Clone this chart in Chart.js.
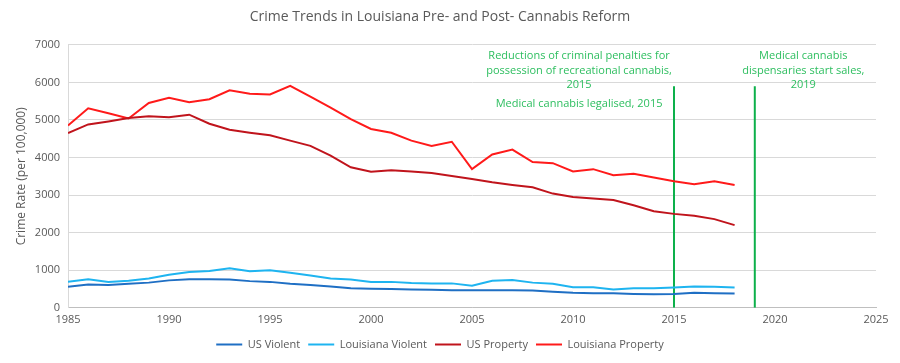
<!DOCTYPE html>
<html>
<head>
<meta charset="utf-8">
<script src="https://cdn.jsdelivr.net/npm/chart.js@4/dist/chart.umd.min.js"></script>
<style>
html,body{margin:0;padding:0;background:#fff;}
#wrap{width:900px;height:363px;position:relative;}
</style>
</head>
<body>
<div id="wrap"><canvas id="c" width="900" height="363"></canvas></div>
<script>
const years = [1985,1986,1987,1988,1989,1990,1991,1992,1993,1994,1995,1996,1997,1998,1999,2000,2001,2002,2003,2004,2005,2006,2007,2008,2009,2010,2011,2012,2013,2014,2015,2016,2017,2018];
const usViolent = [560,620,610,640,670,730,760,760,750,710,690,640,610,570,520,510,500,490,480,470,470,470,470,460,430,400,390,390,370,360,370,400,390,380];
const laViolent = [690,760,690,720,780,880,950,980,1050,970,1000,930,860,780,750,690,690,660,650,650,590,720,740,670,640,550,550,490,520,520,540,570,560,540];
const usProperty = [4650,4880,4960,5050,5100,5070,5140,4900,4740,4660,4590,4450,4310,4050,3740,3620,3660,3630,3590,3510,3430,3340,3270,3210,3040,2950,2910,2870,2730,2570,2500,2450,2360,2200];
const laProperty = [4850,5310,5180,5040,5450,5590,5470,5550,5790,5700,5680,5910,5620,5330,5020,4760,4660,4450,4310,4420,3690,4080,4210,3880,3850,3630,3690,3530,3570,3470,3370,3290,3370,3270];
const eventYears = [2015, 2019];
const eventLineTop = 5900;
const annotations = [
  {x: 2010.3, y: 6700, lines: ["Reductions of criminal penalties for", "possession of recreational cannabis,", "2015", "", "Medical cannabis legalised, 2015"]},
  {x: 2021.4, y: 6700, lines: ["Medical cannabis", "dispensaries start sales,", "2019"]}
];
const xTicks = {min:1985, max:2025, step:5};
const yTicks = {min:0, max:7000, step:1000};

const FONT = "'Open Sans', 'Liberation Sans', sans-serif";
const toXY = arr => arr.map((v,i)=>({x:years[i], y:v}));

const annoPlugin = {
  id:'anno',
  afterDatasetsDraw(chart){
    const {ctx, scales:{x,y}} = chart;
    ctx.save();
    ctx.fillStyle = '#2DBE5F';
    ctx.font = "11px " + FONT;
    ctx.textAlign = 'center';
    ctx.textBaseline = 'middle';
    annotations.forEach(a=>{
      const px = x.getPixelForValue(a.x);
      let py = y.getPixelForValue(a.y);
      a.lines.forEach((l,i)=>{
        if(l==='') { py += 4; return; }
        ctx.fillText(l, px, py);
        py += 14.5;
      });
    });
    ctx.restore();
  }
};

const lineDs = (label, data, color) => ({
  label, data: toXY(data), borderColor: color, backgroundColor: color,
  borderWidth: 2, pointRadius: 0, tension: 0, fill:false
});

const datasets = [
  lineDs('US Violent', usViolent, '#1F6FC4'),
  lineDs('Louisiana Violent', laViolent, '#1EB4F0'),
  lineDs('US Property', usProperty, '#C0141C'),
  lineDs('Louisiana Property', laProperty, '#FF1A1A'),
];
eventYears.forEach(ey=>{
  datasets.push({label:'event', data:[{x:ey,y:0},{x:ey,y:eventLineTop}], borderColor:'#0DB04B', borderWidth:2, pointRadius:0, fill:false, isEvent:true});
});

new Chart(document.getElementById('c'), {
  type:'line',
  data:{datasets},
  plugins:[annoPlugin],
  options:{
    responsive:false,
    animation:false,
    layout:{padding:{left:4, right:24, top:0, bottom:3}},
    plugins:{
      title:{display:true, text:'Crime Trends in Louisiana Pre- and Post- Cannabis Reform', color:'#595959', font:{family:FONT, size:14, weight:'normal'}, padding:{top:9, bottom:19}},
      legend:{position:'bottom', labels:{
        filter:(item, data)=> !data.datasets[item.datasetIndex].isEvent,
        usePointStyle:true, pointStyle:'line', pointStyleWidth:26, boxWidth:26, color:'#595959', padding:8,
        font:{family:FONT, size:11}
      }},
      tooltip:{enabled:false}
    },
    scales:{
      x:{type:'linear', min:xTicks.min, max:xTicks.max,
        ticks:{stepSize:xTicks.step, color:'#595959', font:{family:FONT, size:11}, callback:v=>String(v), maxRotation:0, padding:5},
        grid:{display:false, drawTicks:false},
        border:{color:'#BFBFBF', width:1}
      },
      y:{min:yTicks.min, max:yTicks.max,
        ticks:{stepSize:yTicks.step, color:'#595959', font:{family:FONT, size:11}, callback:v=>String(v), padding:8},
        grid:{color:'#D9D9D9', drawTicks:false},
        border:{display:true, color:'#D9D9D9'},
        title:{display:true, text:'Crime Rate (per 100,000)', color:'#595959', font:{family:FONT, size:12}, padding:{top:10, bottom:4}},
        afterFit:s=>{s.width = 64;}
      }
    }
  }
});
</script>
</body>
</html>
